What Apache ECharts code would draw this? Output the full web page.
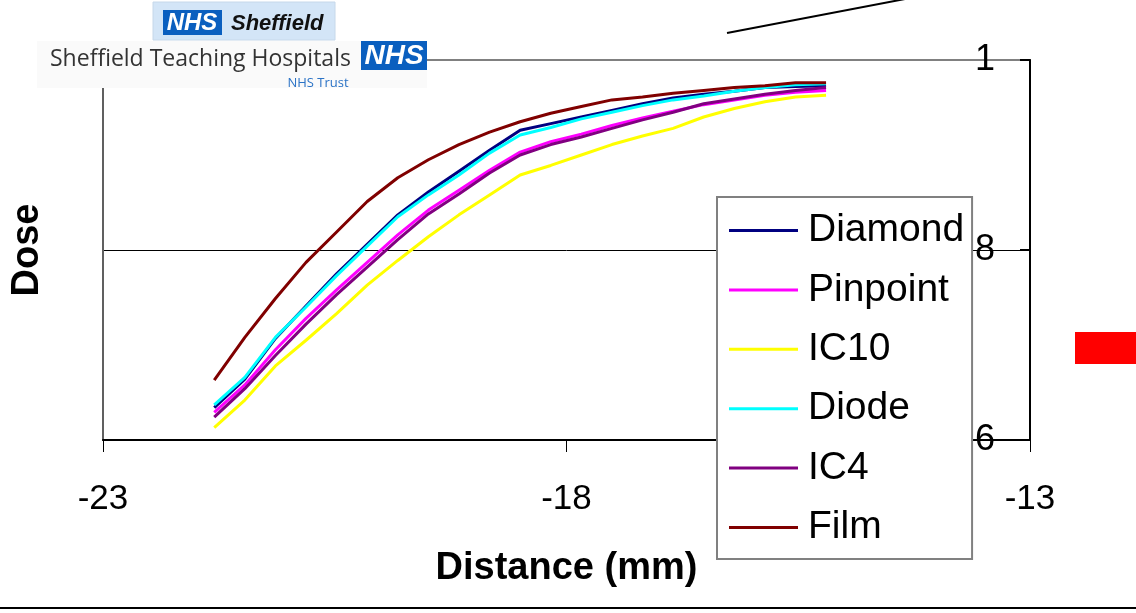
<!DOCTYPE html>
<html>
<head>
<meta charset="utf-8">
<script src="https://cdn.jsdelivr.net/npm/echarts@6/dist/echarts.min.js"></script>
<style>
  html, body { margin: 0; padding: 0; background: #ffffff; }
  #chart { width: 1136px; height: 613px; }
</style>
</head>
<body>
<div id="chart"></div>
<script>
// Depth-dose build-up region measured with six detectors
const distance = [-21.8, -21.47, -21.14, -20.81, -20.48, -20.15, -19.82, -19.49, -19.16, -18.83,
                  -18.5, -18.17, -17.84, -17.51, -17.18, -16.85, -16.52, -16.19, -15.86, -15.53, -15.2];

const diamond  = [6.34, 6.64, 7.07, 7.41, 7.75, 8.06, 8.37, 8.61, 8.83, 9.05,
                  9.26, 9.33, 9.40, 9.47, 9.54, 9.60, 9.64, 9.67, 9.71, 9.72, 9.73];
const pinpoint = [6.29, 6.58, 6.95, 7.28, 7.58, 7.87, 8.16, 8.42, 8.63, 8.84,
                  9.03, 9.14, 9.22, 9.31, 9.39, 9.46, 9.53, 9.58, 9.63, 9.66, 9.68];
const ic10     = [6.13, 6.42, 6.78, 7.05, 7.33, 7.63, 7.89, 8.14, 8.37, 8.58,
                  8.79, 8.89, 9.00, 9.11, 9.20, 9.28, 9.40, 9.49, 9.56, 9.61, 9.63];
const diode    = [6.37, 6.66, 7.08, 7.40, 7.73, 8.04, 8.35, 8.58, 8.79, 9.02,
                  9.21, 9.29, 9.38, 9.45, 9.52, 9.58, 9.62, 9.67, 9.71, 9.74, 9.75];
const ic4      = [6.24, 6.54, 6.89, 7.22, 7.53, 7.82, 8.11, 8.38, 8.59, 8.81,
                  9.00, 9.11, 9.19, 9.28, 9.37, 9.45, 9.54, 9.59, 9.64, 9.68, 9.71];
const film     = [6.63, 7.08, 7.49, 7.87, 8.19, 8.51, 8.76, 8.95, 9.11, 9.24,
                  9.35, 9.44, 9.51, 9.58, 9.61, 9.65, 9.68, 9.71, 9.73, 9.76, 9.76];

const seriesNames  = ['Diamond', 'Pinpoint', 'IC10', 'Diode', 'IC4', 'Film'];
const seriesValues = [diamond, pinpoint, ic10, diode, ic4, film];
const seriesColors = ['#000080', '#ff00ff', '#ffff00', '#00ffff', '#800080', '#800000'];

const xTicks = [-23, -18, -13];
const yTickLabels = { 6: '6', 8: '8', 10: '1' };

const FONT = '"Liberation Sans", Arial, sans-serif';

const chart = echarts.init(document.getElementById('chart'), null, { renderer: 'canvas' });

const series = seriesNames.map((name, i) => ({
  name: name,
  type: 'line',
  yAxisIndex: 0,
  symbol: 'none',
  showSymbol: false,
  smooth: false,
  color: seriesColors[i],
  lineStyle: { width: 3, color: seriesColors[i] },
  data: distance.map((d, k) => [d, seriesValues[i][k]]),
  z: 3
}));

const option = {
  animation: false,
  backgroundColor: '#ffffff',
  grid: {
    left: 103, right: 106, top: 60, bottom: 173,
    show: true, borderColor: '#808080', borderWidth: 2, backgroundColor: 'transparent'
  },
  xAxis: {
    type: 'value',
    min: xTicks[0], max: xTicks[xTicks.length - 1], interval: 5,
    name: 'Distance (mm)',
    nameLocation: 'middle',
    nameGap: 110,
    nameTextStyle: { fontFamily: FONT, fontSize: 38, fontWeight: 'bold', color: '#000' },
    axisLine: { show: true, onZero: false, lineStyle: { color: '#000', width: 2 } },
    axisTick: { show: true, inside: false, length: 12, lineStyle: { color: '#000', width: 1 } },
    axisLabel: { fontFamily: FONT, fontSize: 35, color: '#000', margin: 42 },
    splitLine: { show: false }
  },
  yAxis: [
    {
      type: 'value',
      position: 'right',
      min: 6, max: 10, interval: 2,
      axisLine: { show: true, lineStyle: { color: '#000', width: 2 } },
      axisTick: { show: true, inside: true, length: 10, lineStyle: { color: '#000', width: 2 } },
      axisLabel: {
        inside: true, margin: 35, fontFamily: FONT, fontSize: 36, color: '#000',
        formatter: v => yTickLabels[v] !== undefined ? yTickLabels[v] : ''
      },
      splitLine: { show: true, lineStyle: { color: ['#000', '#000', '#808080'], width: 1 } }
    },
    {
      type: 'value',
      position: 'left',
      min: 6, max: 10, interval: 2,
      name: 'Dose',
      nameLocation: 'middle',
      nameRotate: 90,
      nameGap: 56,
      nameTextStyle: { fontFamily: FONT, fontSize: 38, fontWeight: 'bold', color: '#000' },
      axisLine: { show: true, lineStyle: { color: '#606060', width: 2 } },
      axisTick: { show: false },
      axisLabel: { show: false },
      splitLine: { show: false }
    }
  ],
  legend: {
    data: seriesNames,
    orient: 'vertical',
    left: 717, top: 197,
    padding: [14, 8, 12, 12],
    itemGap: 20.4,
    itemWidth: 69, itemHeight: 3,
    icon: 'rect',
    backgroundColor: '#ffffff',
    borderColor: '#808080', borderWidth: 2,
    textStyle: { fontFamily: FONT, fontSize: 39, color: '#000', padding: [0, 0, 0, 5], lineHeight: 38 },
    z: 10
  },
  graphic: [
    // header: Sheffield badge
    { type: 'rect', shape: { x: 153, y: 2, width: 182, height: 38 }, style: { fill: '#d3e5f7', stroke: '#c6d8ea', lineWidth: 1 }, z: 20 },
    { type: 'rect', shape: { x: 163, y: 10, width: 59, height: 25 }, style: { fill: '#0a5fbf' }, z: 21 },
    { type: 'text', x: 192, y: 23, style: { text: 'NHS', fill: '#ffffff', font: 'italic bold 24px "Liberation Sans", Arial, sans-serif', textAlign: 'center', textVerticalAlign: 'middle' }, z: 22 },
    { type: 'text', x: 231, y: 24, style: { text: 'Sheffield', fill: '#111111', font: 'italic bold 22px "Liberation Sans", Arial, sans-serif', textAlign: 'left', textVerticalAlign: 'middle' }, z: 22 },
    // trust name panel
    { type: 'rect', shape: { x: 37, y: 41, width: 390, height: 47 }, style: { fill: '#fafafa' }, z: 20 },
    { type: 'text', x: 50, y: 59, style: { text: 'Sheffield Teaching Hospitals', fill: '#333333', font: '23px "Open Sans", "Noto Sans", sans-serif', textAlign: 'left', textVerticalAlign: 'middle' }, z: 22 },
    { type: 'rect', shape: { x: 361, y: 41, width: 66, height: 29 }, style: { fill: '#0a5fbf' }, z: 21 },
    { type: 'text', x: 394, y: 56, style: { text: 'NHS', fill: '#ffffff', font: 'italic bold 28px "Liberation Sans", Arial, sans-serif', textAlign: 'center', textVerticalAlign: 'middle' }, z: 22 },
    { type: 'text', x: 318, y: 83, style: { text: 'NHS Trust', fill: '#2b73c6', font: '13px "Open Sans", "Noto Sans", sans-serif', textAlign: 'center', textVerticalAlign: 'middle' }, z: 22 },
    // stray pointer line and marker
    { type: 'line', shape: { x1: 727, y1: 33, x2: 905, y2: -1 }, style: { stroke: '#000', lineWidth: 2 }, z: 20 },
    { type: 'rect', shape: { x: 1075, y: 332, width: 61, height: 32 }, style: { fill: '#ff0000' }, z: 20 },
    // footer rule
    { type: 'line', shape: { x1: 0, y1: 608, x2: 1136, y2: 608 }, style: { stroke: '#000', lineWidth: 2 }, z: 20 }
  ],
  series: series
};

chart.setOption(option);
</script>
</body>
</html>
